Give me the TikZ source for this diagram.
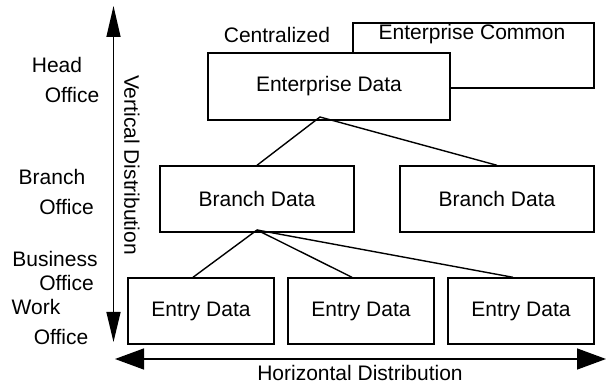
\documentclass[tikz,border=0pt]{standalone}
\usepackage{fontspec}
\setmainfont{Liberation Sans}
\usetikzlibrary{arrows.meta,calc}
\begin{document}
\begin{tikzpicture}[x=1pt,y=-1pt,
  every node/.style={font=\fontsize{21}{24}\selectfont, inner sep=0pt},
  box/.style={draw, line width=1.4pt, fill=white},
  conn/.style={line width=1.4pt},
  axisv/.style={line width=1.4pt, {Triangle[length=31pt,width=14pt]}-{Triangle[length=30pt,width=14pt]}},
  axish/.style={line width=1.4pt, {Triangle[length=29pt,width=21pt]}-{Triangle[length=29pt,width=21pt]}},
  lbl/.style={}]
\useasboundingbox (0,0) rectangle (606,385);
% boxes
\node[box, minimum width=241pt, minimum height=65pt] (ec) at (473.5,55.5) {};
\node[lbl] (ectext) at (472,34) {Enterprise Common};
\node[lbl] (cent) at (277,35) {Centralized};
\node[box, minimum width=242pt, minimum height=67pt] (ed) at (329,86.5) {Enterprise Data};
\node[box, minimum width=194pt, minimum height=66pt] (bl) at (257,199) {Branch Data};
\node[box, minimum width=194pt, minimum height=66pt] (br) at (497,199) {Branch Data};
\node[box, minimum width=146pt, minimum height=66pt] (e1) at (201,311) {Entry Data};
\node[box, minimum width=146pt, minimum height=66pt] (e2) at (361,311) {Entry Data};
\node[box, minimum width=146pt, minimum height=66pt] (e3) at (521,311) {Entry Data};
% junctions
\coordinate (ej) at (320,117);
\coordinate (bj) at (257,230);
\draw[conn] (bl.north) -- (ej) -- (br.north);
\draw[conn] ($(e1.north)+(-8,0)$) -- (bj);
\draw[conn] (bj) -- ($(e2.north)+(-9,0)$);
\draw[conn] (bj) -- ($(e3.north)+(-8,0)$);
% axes
\coordinate (vt) at (113.5,6);
\coordinate (vb) at (113.5,342);
\coordinate (hl) at (115,359);
\coordinate (hr) at (606,359);
\draw[axisv] (vt) -- (vb);
\draw[axish] (hl) -- (hr);
\node[rotate=-90] (vd) at (132,165) {Vertical Distribution};
\node (hd) at (360,373) {Horizontal Distribution};
% level labels
\node (l1) at (57,65) {Head};
\node (l2) at (72,95) {Office};
\node (l3) at (52,177) {Branch};
\node (l4) at (66.5,207) {Office};
\node (l5) at (55,259) {Business};
\node (l6) at (66.5,283) {Office};
\node (l7) at (36,307) {Work};
\node (l8) at (61,337) {Office};
\end{tikzpicture}
\end{document}
